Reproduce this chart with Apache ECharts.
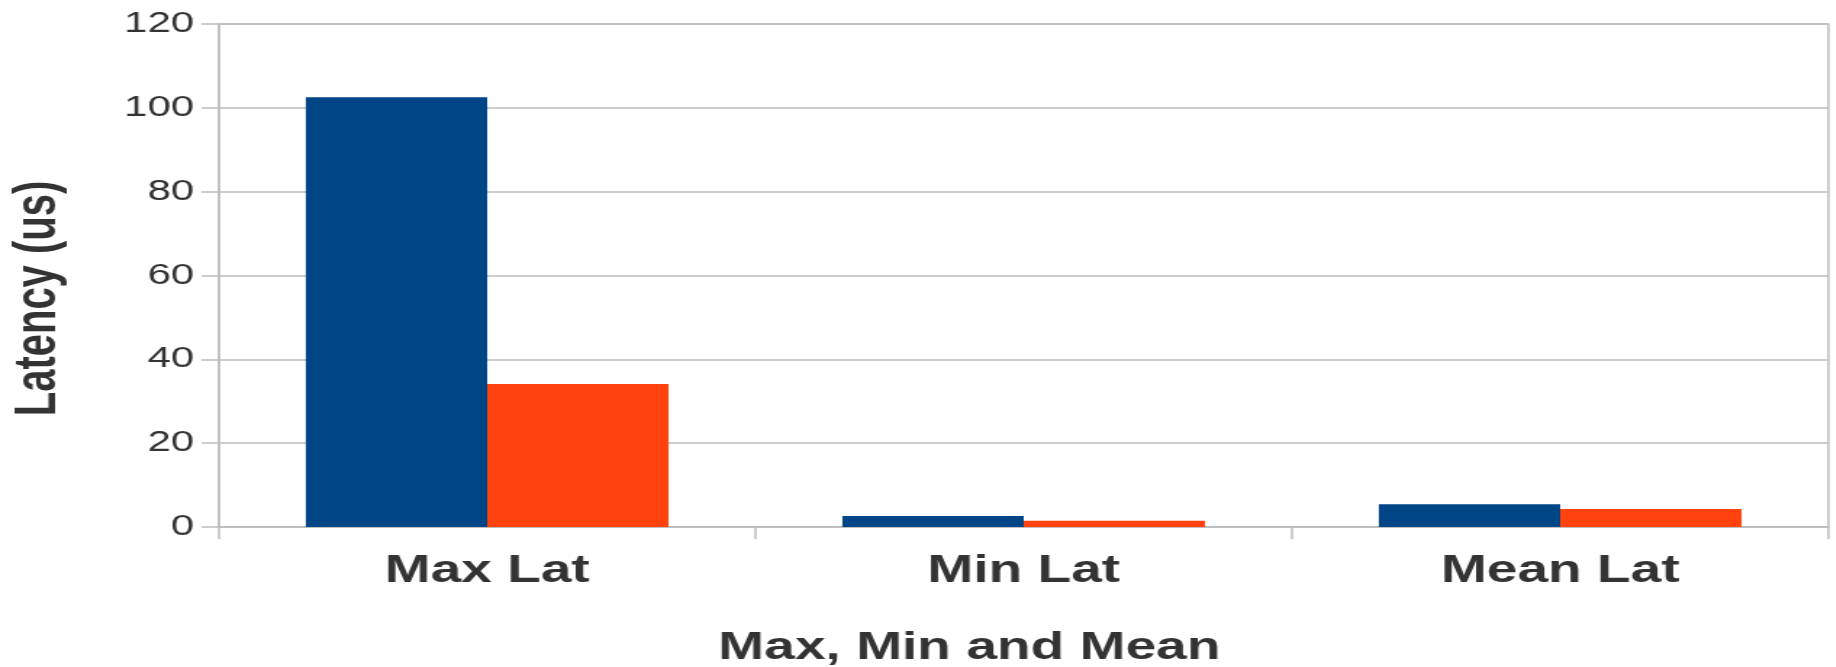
<!DOCTYPE html>
<html>
<head>
<meta charset="utf-8">
<script src="https://cdn.jsdelivr.net/npm/echarts@6/dist/echarts.min.js"></script>
<style>
  html, body { margin: 0; padding: 0; background: #fff; overflow: hidden; }
  /* the source picture is stretched sideways, so the chart is drawn narrower and scaled */
  #chart { width: 1266px; height: 667px; transform: scaleX(1.45); transform-origin: 0 0; }
</style>
</head>
<body>
<div id="chart"></div>
<script>
const categories = ['Max Lat', 'Min Lat', 'Mean Lat']
const seriesA = [102.5, 2.6, 5.4]
const seriesB = [34.1, 1.5, 4.3]
const yTicks = [0, 20, 40, 60, 80, 100, 120]

const gridColor = '#bdbdbd'
const textColor = '#333333'

const chart = echarts.init(document.getElementById('chart'))
chart.setOption({
  animation: false,
  grid: {
    left: 151,
    right: 5,
    top: 24,
    bottom: 140,
    outerBoundsMode: 'none',
    show: true,
    borderColor: gridColor,
    borderWidth: 1.5
  },
  xAxis: {
    type: 'category',
    data: categories,
    name: 'Max, Min and Mean',
    nameLocation: 'middle',
    nameGap: 103,
    nameTextStyle: {
      fontFamily: 'Liberation Sans',
      fontWeight: 'bold',
      fontSize: 38,
      color: textColor,
      padding: [0, 75, 0, 0]
    },
    axisLine: { lineStyle: { color: gridColor, width: 1.5 } },
    axisTick: { show: true, length: 12, lineStyle: { color: gridColor, width: 1.5 } },
    axisLabel: {
      margin: 26,
      fontFamily: 'Liberation Sans',
      fontWeight: 'bold',
      fontSize: 38,
      color: textColor
    }
  },
  yAxis: {
    type: 'value',
    min: yTicks[0],
    max: yTicks[yTicks.length - 1],
    interval: 20,
    name: 'Latency (us)',
    nameLocation: 'middle',
    nameGap: 104,
    nameTextStyle: {
      fontFamily: 'Liberation Sans',
      fontWeight: 'bold',
      fontSize: 40,
      color: textColor,
      padding: [0, 46, 0, 0]
    },
    axisLine: { show: true, lineStyle: { color: gridColor, width: 1.5 } },
    axisTick: { show: true, length: 12, lineStyle: { color: gridColor, width: 1.5 } },
    splitLine: { lineStyle: { color: gridColor, width: 1.5 } },
    axisLabel: {
      margin: 17,
      fontFamily: 'Liberation Sans',
      fontSize: 29,
      color: textColor
    }
  },
  series: [
    {
      name: 'Run 1',
      type: 'bar',
      data: seriesA,
      barWidth: '33.8%',
      barGap: '0%',
      itemStyle: { color: '#004586' }
    },
    {
      name: 'Run 2',
      type: 'bar',
      data: seriesB,
      barWidth: '33.8%',
      itemStyle: { color: '#ff420e' }
    }
  ]
})
</script>
</body>
</html>
